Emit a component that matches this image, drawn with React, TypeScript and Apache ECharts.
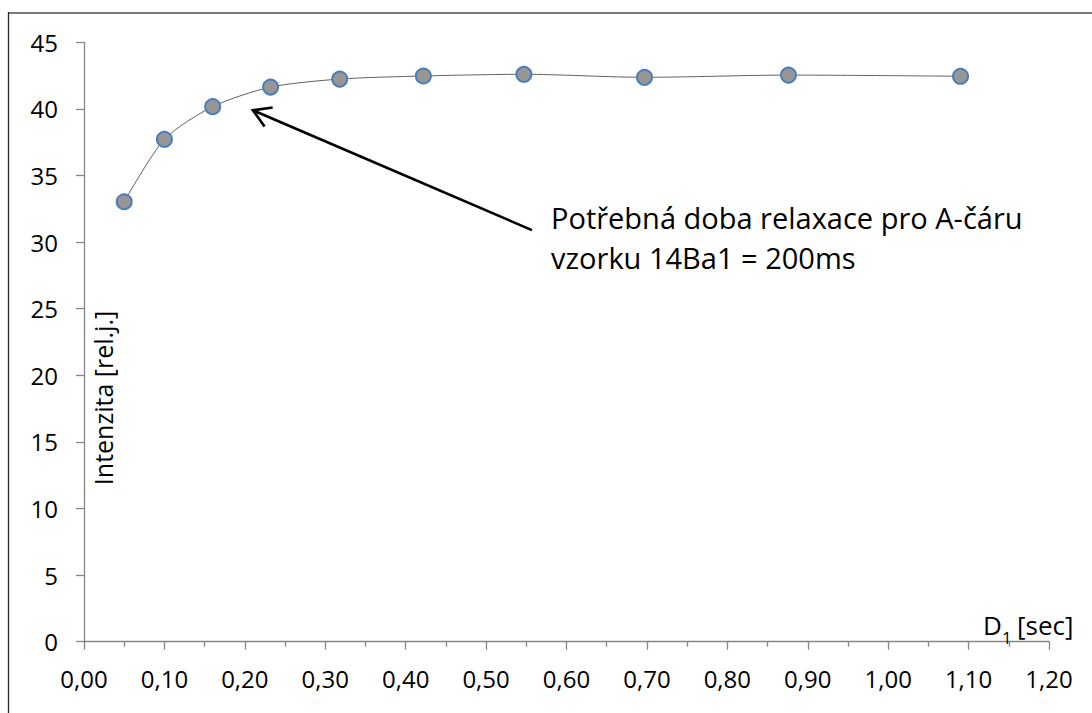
import React, { useEffect, useRef } from "react";
import * as echarts from "echarts";

// Relaxation delay D1 [s] and measured intensity [rel. units]
const delaySec = [0.05, 0.1, 0.16, 0.232, 0.318, 0.422, 0.547, 0.697, 0.876, 1.09];
const intensity = [33.03, 37.72, 40.17, 41.64, 42.24, 42.47, 42.6, 42.37, 42.54, 42.45];

// Arrow annotation in data coordinates: tip (near 200 ms) and tail
const arrowTip = [0.21, 39.9];
const arrowTail = [0.557, 30.9];

const noteLines = ["Potřebná doba relaxace pro A-čáru", "vzorku 14Ba1 = 200ms"];
const yTitle = "Intenzita [rel.j.]";

const FONT = "Open Sans";
const AXIS_GRAY = "#868686";

function fmtComma(v: number) {
  return v.toFixed(2).replace(".", ",");
}

export default function App() {
  const ref = useRef<HTMLDivElement>(null);

  useEffect(() => {
    if (!ref.current) return;
    const chart = echarts.init(ref.current, null, { renderer: "svg" });
    chart.setOption({
      animation: false,
      backgroundColor: "#ffffff",
      grid: { left: 84, top: 42.3, right: 43, bottom: 71.3, containLabel: false },
      xAxis: {
        type: "value",
        min: 0,
        max: 1.2,
        interval: 0.1,
        axisLine: { show: true, onZero: false, lineStyle: { color: AXIS_GRAY, width: 1.3 } },
        axisTick: { show: true, inside: false, length: 8, lineStyle: { color: AXIS_GRAY, width: 1.3 } },
        minorTick: { show: true, splitNumber: 2, length: 5, lineStyle: { color: AXIS_GRAY, width: 1.3 } },
        splitLine: { show: false },
        axisLabel: {
          color: "#000",
          fontFamily: FONT,
          fontSize: 24,
          margin: 25,
          formatter: (v: number) => fmtComma(v),
        },
      },
      yAxis: {
        type: "value",
        min: 0,
        max: 45,
        interval: 5,
        axisLine: { show: true, lineStyle: { color: AXIS_GRAY, width: 1.3 } },
        axisTick: { show: true, inside: false, length: 8, lineStyle: { color: AXIS_GRAY, width: 1.3 } },
        splitLine: { show: false },
        axisLabel: { color: "#000", fontFamily: FONT, fontSize: 24, margin: 26 },
      },
      series: [
        {
          type: "line",
          data: delaySec.map((x, i) => [x, intensity[i]]),
          smooth: 0.25,
          symbol: "circle",
          symbolSize: 15,
          lineStyle: { color: "#3a3a3a", width: 0.8 },
          itemStyle: { color: "#969696", borderColor: "#4a7ebb", borderWidth: 2 },
          z: 3,
        },
      ],
    });

    const tip = chart.convertToPixel({ gridIndex: 0 }, arrowTip) as number[];
    const tail = chart.convertToPixel({ gridIndex: 0 }, arrowTail) as number[];
    const dx = tail[0] - tip[0];
    const dy = tail[1] - tip[1];
    const len = Math.hypot(dx, dy);
    const ux = dx / len;
    const uy = dy / len;
    const armLen = 20;
    const ang = (31 * Math.PI) / 180;
    const arm = (s: number) => [
      tip[0] + armLen * (ux * Math.cos(s * ang) - uy * Math.sin(s * ang)),
      tip[1] + armLen * (ux * Math.sin(s * ang) + uy * Math.cos(s * ang)),
    ];
    const a1 = arm(1);
    const a2 = arm(-1);

    chart.setOption({
      graphic: [
        // outer frame
        { type: "line", shape: { x1: 8, y1: 13, x2: 1100, y2: 13 }, style: { stroke: "#7a7a7a", lineWidth: 2 }, silent: true },
        { type: "line", shape: { x1: 8.5, y1: 12, x2: 8.5, y2: 720 }, style: { stroke: "#262626", lineWidth: 1.3 }, silent: true },
        // arrow
        { type: "line", shape: { x1: tail[0], y1: tail[1], x2: tip[0], y2: tip[1] }, style: { stroke: "#000", lineWidth: 2.6 }, z: 10 },
        {
          type: "polyline",
          shape: { points: [a1, tip, a2] },
          style: { stroke: "#000", lineWidth: 2.6, fill: null, lineJoin: "miter" },
          z: 10,
        },
        // annotation
        {
          type: "text",
          x: 551,
          y: 217,
          style: { text: noteLines[0], fill: "#000", font: `29px "${FONT}"`, textAlign: "left", textVerticalAlign: "middle" },
          z: 10,
        },
        {
          type: "text",
          x: 551,
          y: 257,
          style: { text: noteLines[1], fill: "#000", font: `29px "${FONT}"`, textAlign: "left", textVerticalAlign: "middle" },
          z: 10,
        },
        // y axis title
        {
          type: "text",
          x: 103,
          y: 398,
          rotation: Math.PI / 2,
          style: { text: yTitle, fill: "#000", font: `25px "${FONT}"`, textAlign: "center", textVerticalAlign: "middle" },
          z: 10,
        },
        // x axis title D1 [sec]
        {
          type: "text",
          x: 983,
          y: 625,
          style: { text: "D", fill: "#000", font: `26px "${FONT}"`, textAlign: "left", textVerticalAlign: "middle" },
          z: 10,
        },
        {
          type: "text",
          x: 1002,
          y: 637,
          style: { text: "1", fill: "#000", font: `17px "${FONT}"`, textAlign: "left", textVerticalAlign: "middle" },
          z: 10,
        },
        {
          type: "text",
          x: 1017,
          y: 625,
          style: { text: "[sec]", fill: "#000", font: `26px "${FONT}"`, textAlign: "left", textVerticalAlign: "middle" },
          z: 10,
        },
      ],
    });

    return () => chart.dispose();
  }, []);

  return (
    <div
      ref={ref}
      style={{ position: "absolute", left: 0, top: 0, width: 1092, height: 713, background: "#fff" }}
    />
  );
}
